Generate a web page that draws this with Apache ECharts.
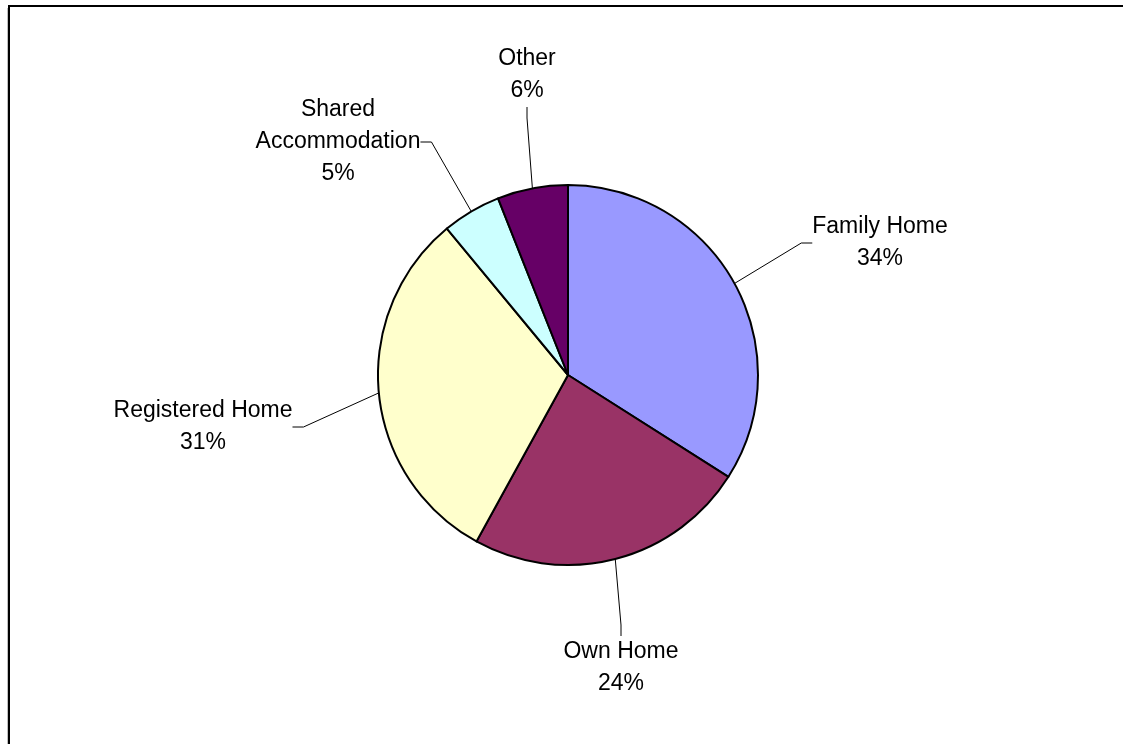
<!DOCTYPE html>
<html>
<head>
<meta charset="utf-8">
<script src="https://cdn.jsdelivr.net/npm/echarts@6/dist/echarts.min.js"></script>
<style>
  html, body { margin: 0; padding: 0; background: #fff; }
  #chart { width: 1123px; height: 744px; }
</style>
</head>
<body>
<div id="chart"></div>
<script>
// Accommodation type shares (percent)
const categories = ['Family Home', 'Own Home', 'Registered Home', 'Shared Accommodation', 'Other'];
const shares = [34, 24, 31, 5, 6];
const sliceColors = ['#9999FF', '#993366', '#FFFFCC', '#CCFFFF', '#660066'];
// Label text (two-line category names where the name wraps)
const labelNames = ['Family Home', 'Own Home', 'Registered Home', 'Shared\nAccommodation', 'Other'];

// Where each label block sits (centre of the text block, in pixels)
const labelSpots = [
  [880, 243],
  [621, 668],
  [203, 427],
  [338, 142],
  [527, 75]
];

const chart = echarts.init(document.getElementById('chart'), null, { renderer: 'canvas' });

chart.setOption({
  backgroundColor: '#ffffff',
  animation: false,
  graphic: [
    {
      type: 'line',
      shape: { x1: 7.5, y1: 8, x2: 7.5, y2: 744 },
      style: { stroke: '#c0c0c0', lineWidth: 1 },
      silent: true
    },
    {
      type: 'rect',
      shape: { x: 9, y: 6, width: 1300, height: 900 },
      style: { fill: 'none', stroke: '#000000', lineWidth: 2 },
      silent: true
    }
  ],
  series: [{
    type: 'pie',
    center: [568, 375],
    radius: 190,
    startAngle: 90,
    clockwise: true,
    avoidLabelOverlap: false,
    data: categories.map((c, i) => ({
      name: labelNames[i],
      value: shares[i],
      itemStyle: { color: sliceColors[i] }
    })),
    itemStyle: { borderColor: '#000000', borderWidth: 2 },
    emphasis: { disabled: true },
    label: {
      show: true,
      position: 'outside',
      formatter: '{b}\n{c}%',
      fontFamily: '"Liberation Sans", Arial, sans-serif',
      fontSize: 23,
      lineHeight: 32,
      color: '#000000',
      align: 'center'
    },
    labelLine: {
      show: true,
      length: 20,
      length2: 11,
      lineStyle: { color: '#000000', width: 1 }
    },
    labelLayout: function (params) {
      const p = labelSpots[params.dataIndex];
      return { x: p[0], y: p[1], align: 'center', verticalAlign: 'middle' };
    }
  }]
});
</script>
</body>
</html>
